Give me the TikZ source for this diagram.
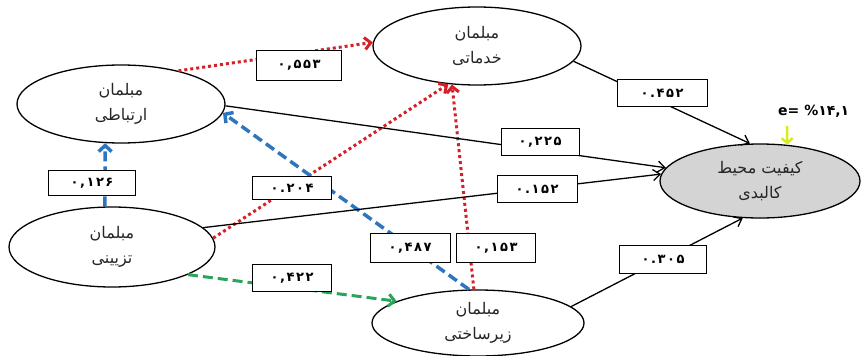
\documentclass[tikz,border=0pt]{standalone}
\usepackage{fontspec}
\TeXXeTstate=1
\newfontfamily\arabicfont[Script=Arabic]{DejaVu Sans}
\newfontfamily\numfont[Script=Arabic,LetterSpace=12]{DejaVu Sans}
\usetikzlibrary{shapes.geometric,arrows.meta}
\definecolor{dotred}{RGB}{214,32,40}
\definecolor{dashblue}{RGB}{46,117,192}
\definecolor{dashgreen}{RGB}{40,165,90}
\definecolor{eyellow}{RGB}{215,235,30}

\begin{document}
\begin{tikzpicture}[x=1pt, y=-1pt,
		blob/.style={ellipse, draw, line width=1.3pt, inner sep=0pt, align=center, text=black!85, font=\arabicfont\fontsize{16}{25}\selectfont},
		weight/.style={draw, line width=0.9pt, fill=white, minimum width=80pt, minimum height=27pt, inner sep=0pt, font=\numfont\bfseries\fontsize{13}{15}\selectfont},
		solidpath/.style={line width=1.3pt, -{Straight Barb[length=7pt,width=11pt]}},
		dotpath/.style={line width=3pt, color=dotred, dash pattern=on 3pt off 3pt, -{Straight Barb[length=6pt,width=12pt]}},
		bluepath/.style={line width=3.5pt, color=dashblue, dash pattern=on 10pt off 5pt, -{Straight Barb[length=6pt,width=13pt]}},
		greenpath/.style={line width=3pt, color=dashgreen, dash pattern=on 10pt off 5pt, -{Straight Barb[length=6pt,width=12pt]}}]
		%%%%% START %%%%%
		
		\useasboundingbox (0, 0) rectangle (862, 356);
		
		\node[blob, minimum width=208pt, minimum height=78pt] (rel) at (121, 104) {\beginR مبلمان\endR\\\beginR ارتباطی\endR};
		\node[blob, minimum width=208pt, minimum height=78pt] (serv) at (477, 46) {\beginR مبلمان\endR\\\beginR خدماتی\endR};
		\node[blob, minimum width=206pt, minimum height=80pt] (deco) at (112, 247) {\beginR مبلمان\endR\\\beginR تزیینی\endR};
		\node[blob, minimum width=212pt, minimum height=66pt] (infra) at (478, 323) {\beginR مبلمان\endR\\\beginR زیرساختی\endR};
		\node[blob, fill=black!17, minimum width=200pt, minimum height=74pt] (qual) at (760, 181) {\beginR کیفیت محیط\endR\\\beginR کالبدی\endR};
		
		\draw[dotpath] (rel.30) -- (serv.178);
		\draw[dotpath] (deco.5) -- (serv.-127);
		\draw[dotpath] (infra.97) -- (serv.-123);
		\draw[bluepath] (deco.100) -- (rel.-112);
		\draw[bluepath] (infra.105) -- (rel.-5);
		\draw[greenpath] (deco.-20) -- (infra.165);
		
		\draw[solidpath] (serv.-9) -- (qual.105);
		\draw[solidpath] (rel.-1) -- (qual.172);
		\draw[solidpath] (deco.12) -- (qual.176);
		\draw[solidpath] (infra.10) -- (qual.-115);
		
		\node[weight, minimum width=85pt, minimum height=30pt] (w553) at (299, 65) {۰,۵۵۳};
		\node[weight, minimum width=90pt] (w452) at (662, 93) {۰.۴۵۲};
		\node[weight, minimum width=78pt] (w225) at (540, 142) {۰,۲۲۵};
		\node[weight] (w152) at (537, 189) {۰.۱۵۲};
		\node[weight, minimum width=79pt, minimum height=23pt] (w204) at (292, 188) {۰.۲۰۴};
		\node[weight, minimum width=87pt, minimum height=25pt] (w126) at (92, 183) {۰,۱۲۶};
		\node[weight, minimum height=29pt] (w487) at (410, 248) {۰,۴۸۷};
		\node[weight, minimum width=79pt, minimum height=29pt] (w153) at (496, 248) {۰,۱۵۳};
		\node[weight, minimum width=79pt] (w422) at (292, 278) {۰,۴۲۲};
		\node[weight, minimum width=87pt, minimum height=28pt] (w305) at (663, 259) {۰.۳۰۵};
		
		\node[anchor=west, inner sep=0pt, font=\arabicfont\bfseries\fontsize{14}{16}\selectfont] (err) at (778, 111) {e= \%۱۴,۱};
		\coordinate (etop) at (787, 126);
		\draw[line width=2.5pt, color=eyellow, -{Straight Barb[length=5pt,width=11pt]}] (etop) -- (qual.53);
		
		%%%%% END %%%%%
	\end{tikzpicture}
\end{document}
